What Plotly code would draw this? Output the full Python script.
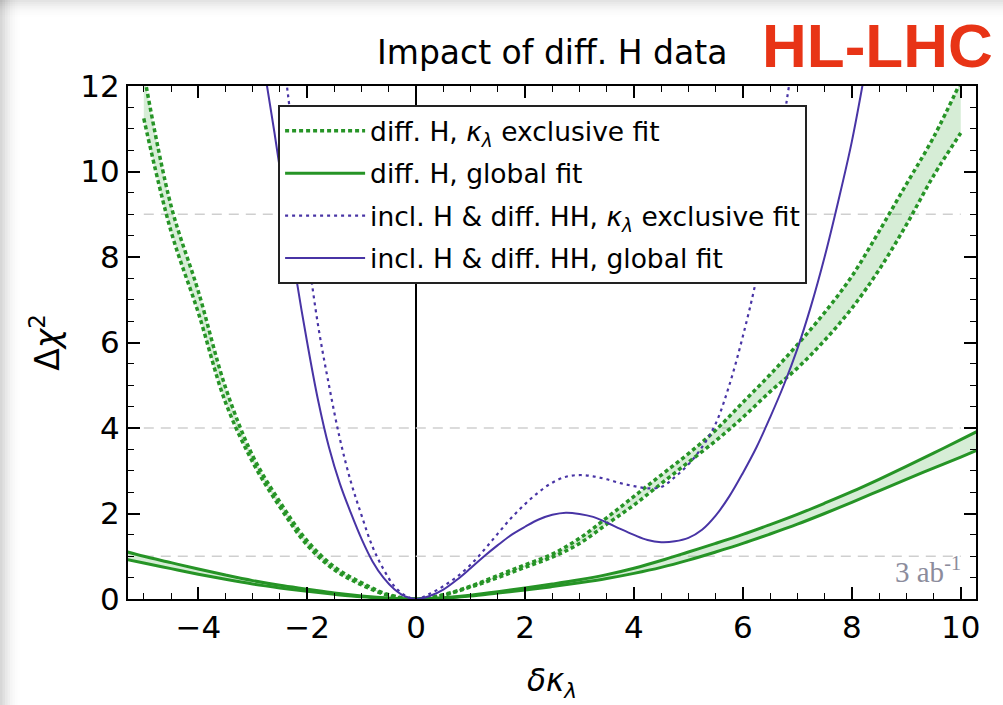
import plotly.graph_objects as go

# ---------------- data ----------------
# diff. H, kappa_lambda exclusive fit (band: upper / lower edge)
x_excl = [-5, -4.5, -4, -3.5, -3, -2.5, -2, -1.5, -1, -0.5, 0,
          0.5, 1, 1.5, 2, 2.5, 3, 3.5, 4, 4.5, 5, 5.5, 6, 6.5, 7, 7.5,
          8, 8.5, 9, 9.5, 10]
excl_hi = [12.3, 9.2, 7.2, 4.95, 3.35, 2.27, 1.36, 0.75, 0.38, 0.10, 0,
           0.10, 0.30, 0.55, 0.80, 1.05, 1.42, 1.90, 2.40, 2.90, 3.40, 3.95,
           4.60, 5.25, 5.95, 6.70, 7.55, 8.60, 9.70, 10.80, 12.10]
excl_lo = [11.24, 8.6, 6.7, 4.6, 3.2, 2.15, 1.26, 0.68, 0.33, 0.08, 0,
           0.09, 0.28, 0.50, 0.74, 0.98, 1.30, 1.75, 2.20, 2.70, 3.20, 3.70,
           4.25, 4.85, 5.40, 6.05, 6.80, 7.70, 8.75, 9.90, 10.90]

# diff. H, global fit (band: upper / lower edge)
x_glob = [-5.3, -5, -4.5, -4, -3.5, -3, -2.5, -2, -1.5, -1, -0.5, 0,
          0.5, 1, 1.5, 2, 2.5, 3, 3.5, 4, 4.5, 5, 5.5, 6, 6.5, 7, 7.5,
          8, 8.5, 9, 9.5, 10, 10.3]
glob_hi = [1.10, 1.00, 0.85, 0.70, 0.56, 0.43, 0.32, 0.23, 0.14, 0.07, 0.02, 0,
           0.03, 0.09, 0.17, 0.26, 0.35, 0.45, 0.57, 0.72, 0.90, 1.10, 1.30,
           1.51, 1.74, 1.98, 2.24, 2.51, 2.80, 3.10, 3.41, 3.73, 3.92]
glob_lo = [0.92, 0.84, 0.71, 0.58, 0.46, 0.35, 0.26, 0.18, 0.11, 0.05, 0.015, 0,
           0.02, 0.07, 0.14, 0.21, 0.29, 0.38, 0.48, 0.60, 0.74, 0.91, 1.10,
           1.30, 1.52, 1.75, 2.00, 2.26, 2.53, 2.80, 3.06, 3.32, 3.48]

# incl. H & diff. HH, kappa_lambda exclusive fit
x_hh_excl = [-2.4, -2.2, -2.0, -1.8, -1.6, -1.4, -1.2, -1.0, -0.8, -0.6, -0.4, -0.2, 0,
             0.25, 0.5, 0.75, 1.0, 1.25, 1.5, 1.75, 2.0, 2.25, 2.5, 2.75, 3.0,
             3.25, 3.5, 3.75, 4.0, 4.25, 4.5, 4.75, 5.0, 5.25, 5.5, 5.75, 6.0,
             6.25, 6.5, 6.75, 7.0]
y_hh_excl = [12.3, 10.2, 8.2, 6.4, 5.0, 3.75, 2.75, 1.95, 1.22, 0.70, 0.30, 0.08, 0,
             0.12, 0.30, 0.52, 0.80, 1.15, 1.53, 1.90, 2.22, 2.50, 2.72, 2.86, 2.90,
             2.87, 2.80, 2.71, 2.64, 2.59, 2.62, 2.85, 3.15, 3.55, 4.10, 5.00, 6.15,
             7.50, 9.20, 11.20, 13.30]

# incl. H & diff. HH, global fit
x_hh_glob = [-2.8, -2.6, -2.4, -2.2, -2.0, -1.8, -1.6, -1.4, -1.2, -1.0, -0.8, -0.6, -0.4, -0.2, 0,
             0.25, 0.5, 0.75, 1.0, 1.25, 1.5, 1.75, 2.0, 2.25, 2.5, 2.75, 3.0,
             3.25, 3.5, 3.75, 4.0, 4.25, 4.5, 4.75, 5.0, 5.25, 5.5, 5.75, 6.0,
             6.25, 6.5, 6.75, 7.0, 7.25, 7.5, 7.75, 8.0, 8.25]
y_hh_glob = [12.5, 10.9, 9.2, 7.5, 6.0, 4.65, 3.55, 2.70, 2.02, 1.40, 0.88, 0.50, 0.23, 0.06, 0,
             0.07, 0.22, 0.45, 0.72, 1.00, 1.26, 1.50, 1.69, 1.86, 1.97, 2.02, 1.99,
             1.92, 1.79, 1.64, 1.50, 1.38, 1.33, 1.35, 1.43, 1.62, 1.95, 2.40, 2.95,
             3.55, 4.25, 5.00, 5.85, 6.85, 8.00, 9.30, 10.70, 12.40]

# reference levels (Delta chi^2 = 1, 4, 9) and their x extent
sigma_levels = [1, 4, 9]
level_x = [-5, 10]

names = ["diff. H, <i>κ</i><sub><i>λ</i></sub> exclusive fit",
         "diff. H, global fit",
         "incl. H &amp; diff. HH, <i>κ</i><sub><i>λ</i></sub> exclusive fit",
         "incl. H &amp; diff. HH, global fit"]

x_range = [-5.29, 10.28]
y_range = [0, 12]

# ---------------- styling ----------------
GREEN = "rgb(38,148,38)"
GREEN_FILL = "rgba(70,175,70,0.22)"
BLUE = "rgb(72,52,165)"
FONT = "DejaVu Sans, Verdana, sans-serif"
ARIAL = "Liberation Sans, Arial, sans-serif"

fig = go.Figure()

for lvl in sigma_levels:
    fig.add_trace(go.Scatter(x=level_x, y=[lvl, lvl], mode="lines",
                             line=dict(color="#cfcfcf", width=1.6, dash="10px,7px"),
                             showlegend=False, hoverinfo="skip"))

# green exclusive band
fig.add_trace(go.Scatter(x=x_excl, y=excl_hi, mode="lines", name=names[0],
                         legendgroup="g1", line=dict(color=GREEN, width=3.5, dash="4px,3px", shape="spline")))
fig.add_trace(go.Scatter(x=x_excl, y=excl_lo, mode="lines", name=names[0], showlegend=False,
                         legendgroup="g1", fill="tonexty", fillcolor=GREEN_FILL,
                         line=dict(color=GREEN, width=3.5, dash="4px,3px", shape="spline")))
# green global band
fig.add_trace(go.Scatter(x=x_glob, y=glob_hi, mode="lines", name=names[1],
                         legendgroup="g2", line=dict(color=GREEN, width=3, shape="spline")))
fig.add_trace(go.Scatter(x=x_glob, y=glob_lo, mode="lines", name=names[1], showlegend=False,
                         legendgroup="g2", fill="tonexty", fillcolor=GREEN_FILL,
                         line=dict(color=GREEN, width=3, shape="spline")))
# blue curves
fig.add_trace(go.Scatter(x=x_hh_excl, y=y_hh_excl, mode="lines", name=names[2],
                         legendgroup="g3", line=dict(color=BLUE, width=2.2, dash="3px,4px", shape="spline")))
fig.add_trace(go.Scatter(x=x_hh_glob, y=y_hh_glob, mode="lines", name=names[3],
                         legendgroup="g4", line=dict(color=BLUE, width=2, shape="spline")))

axis_common = dict(showline=True, linecolor="black", linewidth=2, mirror="allticks",
                   ticks="inside", ticklen=12, tickwidth=1.6, tickcolor="black",
                   showgrid=False, tickfont=dict(family=FONT, size=31, color="black"),
                   minor=dict(ticks="inside", ticklen=6, tickwidth=1.4, tickcolor="black", dtick=0.5))

fig.update_xaxes(range=x_range, tick0=0, dtick=2, zeroline=True, zerolinecolor="black",
                 zerolinewidth=1.5, **axis_common)
fig.update_yaxes(range=y_range, tick0=0, dtick=2, zeroline=False, **axis_common)

# soft drop-shadow at the left and top edges of the picture (decoration)
shadow = []
steps = 8
for i in range(steps):
    op = 0.035 * (1 - i / steps)
    shadow.append(dict(type="rect", xref="paper", yref="paper", layer="below",
                       x0=-0.1510, x1=-0.1510 + (i + 1) * 0.0030, y0=-0.207, y1=1.168,
                       fillcolor="black", opacity=op, line=dict(width=0)))
    shadow.append(dict(type="rect", xref="paper", yref="paper", layer="below",
                       x0=-0.1510, x1=1.032, y0=1.168 - (i + 1) * 0.0042, y1=1.168,
                       fillcolor="black", opacity=op * 0.7, line=dict(width=0)))

fig.update_layout(
    width=1003, height=705,
    margin=dict(l=128, r=27, t=86, b=106),
    paper_bgcolor="white", plot_bgcolor="white",
    font=dict(family=FONT, color="black"),
    shapes=shadow,
    legend=dict(x=0.177, y=0.963, xanchor="left", yanchor="top",
                bgcolor="white", bordercolor="#222222", borderwidth=2,
                font=dict(family=FONT, size=26.5, color="black"),
                itemwidth=80, tracegroupgap=5, traceorder="grouped"),
    annotations=[
        dict(text="Impact of diff. H data", xref="paper", yref="paper", x=0.5, y=1.066,
             xanchor="center", yanchor="middle", showarrow=False,
             font=dict(family=FONT, size=33, color="black")),
        dict(text="<b>HL-LHC</b>", xref="paper", yref="paper", x=1.0224, y=1.078,
             xanchor="right", yanchor="middle", showarrow=False,
             font=dict(family=ARIAL, size=62, color="rgb(232,52,22)")),
        dict(text="<i>δκ</i><sub><i>λ</i></sub>", xref="paper", yref="paper", x=0.5, y=-0.162,
             xanchor="center", yanchor="middle", showarrow=False,
             font=dict(family=FONT, size=31, color="black")),
        dict(text="Δ<i>χ</i><sup>2</sup>", xref="paper", yref="paper", x=-0.0975, y=0.5,
             xanchor="center", yanchor="middle", showarrow=False, textangle=-90,
             font=dict(family=FONT, size=33, color="black")),
        dict(text="3 ab<sup>-1</sup>", xref="paper", yref="paper", x=0.9847, y=0.056,
             xanchor="right", yanchor="middle", showarrow=False,
             font=dict(family="Liberation Serif, Times New Roman, serif", size=29, color="#8c8c9c")),
    ],
)

fig.write_html("out.html")
